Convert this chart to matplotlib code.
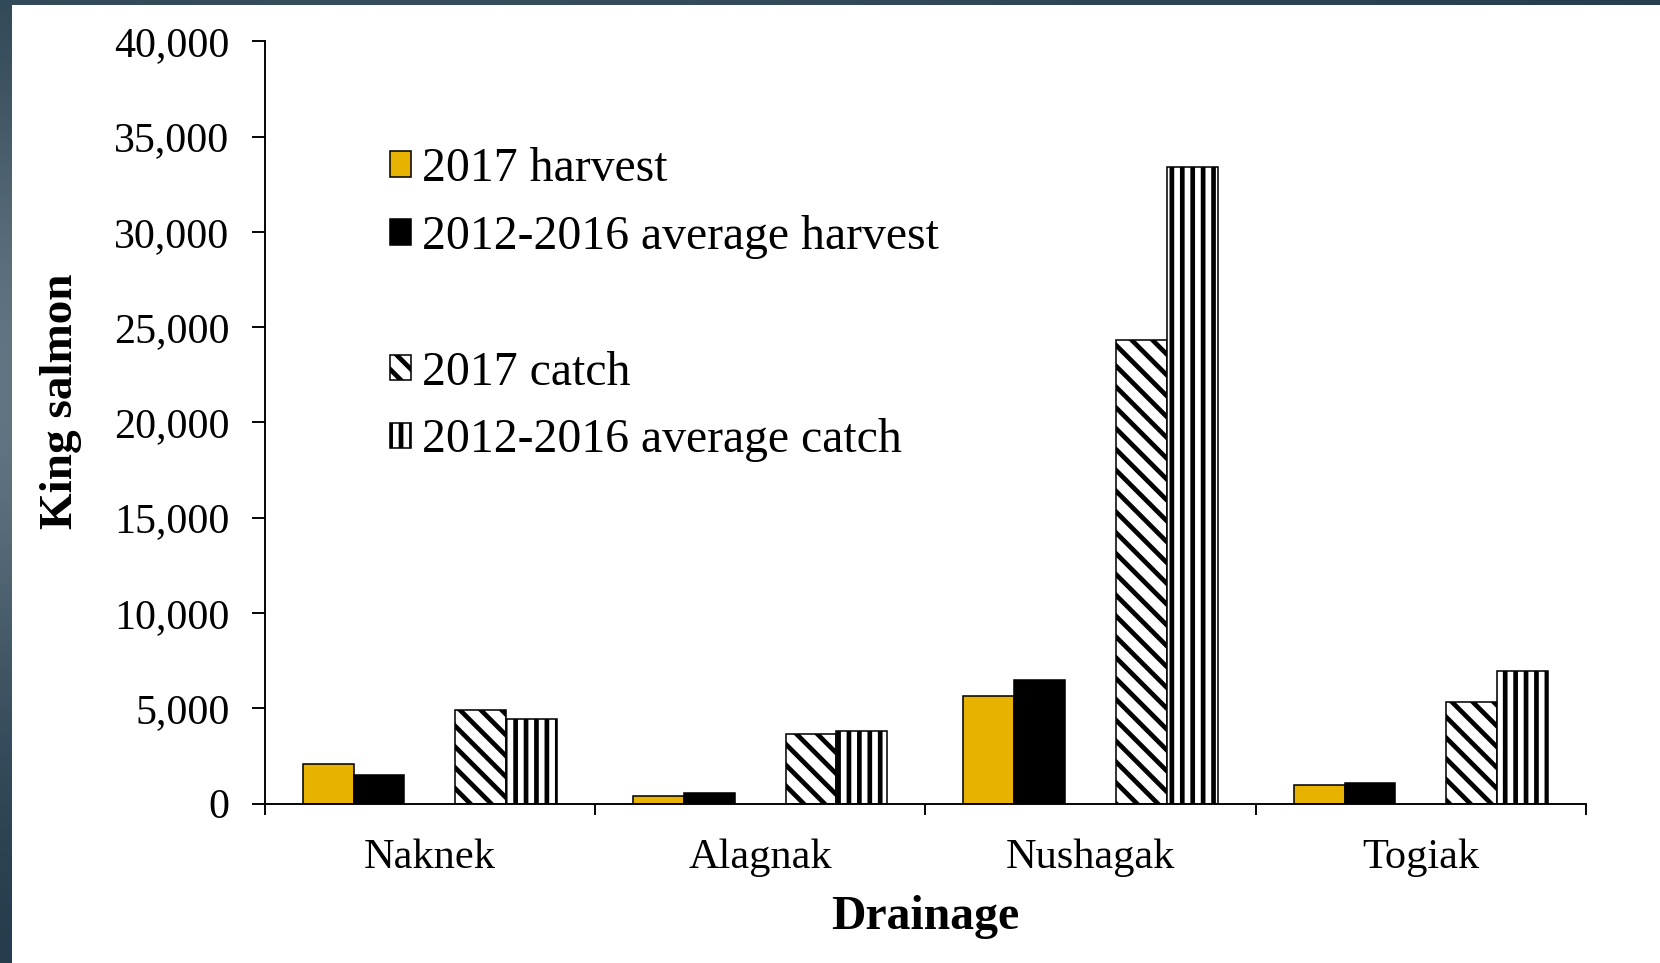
import matplotlib
matplotlib.use('Agg')
import matplotlib.pyplot as plt
import numpy as np
from matplotlib.patches import Patch, Rectangle
from matplotlib.ticker import FuncFormatter

categories = ['Naknek', 'Alagnak', 'Nushagak', 'Togiak']
harvest_2017 = [2060, 390, 5650, 960]
avg_harvest = [1500, 530, 6460, 1100]
catch_2017 = [4890, 3670, 24300, 5330]
avg_catch = [4420, 3790, 33400, 6950]
series_labels = ['2017 harvest', '2012-2016 average harvest',
                 '2017 catch', '2012-2016 average catch']
yticks = list(range(0, 40001, 5000))

GOLD = '#E8B300'
plt.rcParams['font.family'] = ['Liberation Serif', 'DejaVu Serif']
plt.rcParams['hatch.linewidth'] = 2.7
plt.rcParams['hatch.color'] = 'black'

DPI = 125
W, H = 1660, 963
fig = plt.figure(figsize=(W / DPI, H / DPI), dpi=DPI)

# background frame gradient
bg = fig.add_axes([0, 0, 1, 1], zorder=-10)
yy, xx = np.mgrid[0:1:200j, 0:1:300j]
f = np.exp(-((xx - 0.25) ** 2 / 0.35 + (yy - 0.4) ** 2 / 0.12))
dark = np.array([0x22, 0x3a, 0x4b]) / 255
light = np.array([0x6e, 0x80, 0x8c]) / 255
img = dark[None, None, :] * (1 - f[..., None]) + light[None, None, :] * f[..., None]
bg.imshow(img, extent=[0, 1, 0, 1], aspect='auto', origin='upper')
bg.add_patch(Rectangle((12 / W, 0), 1, 1 - 5 / H, facecolor='white', edgecolor='none'))
bg.set_xlim(0, 1)
bg.set_ylim(0, 1)
bg.axis('off')

ax = fig.add_axes([264.7 / W, 1 - 803.5 / H, (1586 - 264.7) / W, (803.5 - 41.3) / H])

x = np.arange(len(categories))
w = 1 / 6.5
ax.bar(x - 2 * w, harvest_2017, width=w, color=GOLD, edgecolor='black', linewidth=0.9)
ax.bar(x - 1 * w, avg_harvest, width=w, color='black', edgecolor='black', linewidth=0.9)
ax.bar(x + 1 * w, catch_2017, width=w, color='white', edgecolor='black', linewidth=0.9, hatch='\\\\')
ax.bar(x + 2 * w, avg_catch, width=w, color='white', edgecolor='black', linewidth=0.9, hatch='||')

ax.set_xlim(-0.5, len(categories) - 0.5)
ax.set_ylim(0, 40000)
ax.set_yticks(yticks)
ax.yaxis.set_major_formatter(FuncFormatter(lambda v, p: f'{int(v):,}'))
ax.set_xticks(np.arange(-0.5, len(categories), 1.0))
ax.set_xticklabels([])
ax.set_xticks(x, minor=True)
ax.set_xticklabels(categories, minor=True)
ax.tick_params(axis='x', which='major', direction='out', length=6.1, width=1.1)
ax.tick_params(axis='x', which='minor', length=0, pad=20, labelsize=24.4)
ax.tick_params(axis='y', direction='out', length=7.3, width=1.1, pad=13, labelsize=24.2)
for s in ['top', 'right']:
    ax.spines[s].set_visible(False)
for s in ['left', 'bottom']:
    ax.spines[s].set_linewidth(1.1)

fig.text(925 / W, 1 - 917 / H, 'Drainage', ha='center', va='center',
         fontsize=27.5, fontweight='bold')
fig.text(61 / W, 1 - 401 / H, 'King salmon', ha='center', va='center',
         rotation=90, fontsize=27.2, fontweight='bold')

handles = [
    Patch(facecolor=GOLD, edgecolor='black', linewidth=0.9),
    Patch(facecolor='black', edgecolor='black', linewidth=0.9),
    Patch(facecolor='none', edgecolor='none'),
    Patch(facecolor='white', edgecolor='black', linewidth=0.9, hatch='\\\\'),
    Patch(facecolor='white', edgecolor='black', linewidth=0.9, hatch='||'),
]
labels = [series_labels[0], series_labels[1], ' ', series_labels[2], series_labels[3]]
fig.legend(handles, labels, loc='upper left', bbox_to_anchor=(390 / W, 1 - 147 / H),
           frameon=False, fontsize=27.5, handlelength=0.45, handleheight=0.45,
           handletextpad=0.22, labelspacing=0.5, borderpad=0, borderaxespad=0)

fig.savefig('out.png', dpi=DPI)
